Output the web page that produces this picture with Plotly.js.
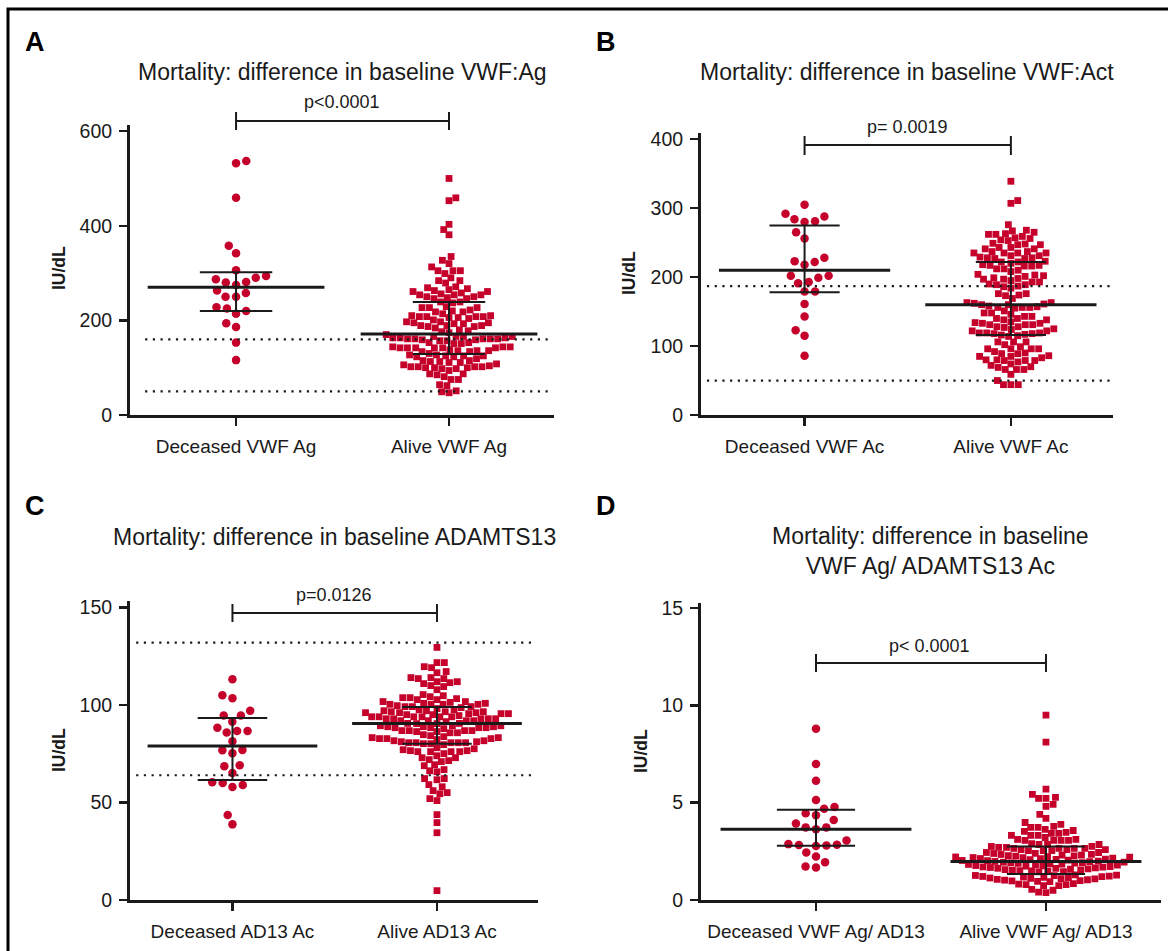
<!DOCTYPE html>
<html><head><meta charset="utf-8">
<script src="https://cdn.plot.ly/plotly-3.0.1.min.js"></script>
<style>html,body{margin:0;padding:0;background:#fff}#chart{width:1168px;height:951px}</style>
</head><body><div id="chart"></div>
<script>
// ---------------- DATA ----------------
const catsA = ["Deceased VWF Ag", "Alive VWF Ag"];
const catsB = ["Deceased VWF Ac", "Alive VWF Ac"];
const catsC = ["Deceased AD13 Ac", "Alive AD13 Ac"];
const catsD = ["Deceased VWF Ag/ AD13", "Alive VWF Ag/ AD13"];

const titleA = "Mortality: difference in baseline VWF:Ag";
const titleB = "Mortality: difference in baseline VWF:Act";
const titleC = "Mortality: difference in baseline ADAMTS13";
const titleD = "Mortality: difference in baseline<br>VWF Ag/ ADAMTS13 Ac";

const pA = "p<0.0001", pB = "p= 0.0019", pC = "p=0.0126", pD = "p< 0.0001";

const ticksA = [0, 200, 400, 600];
const ticksB = [0, 100, 200, 300, 400];
const ticksC = [0, 50, 100, 150];
const ticksD = [0, 5, 10, 15];

const refA = [160, 50];
const refB = [187, 50];
const refC = [132, 64];

// central line and error bar [centre, low, high] for [deceased, alive]
const statA = [[270, 220, 302], [171, 129, 239]];
const statB = [[210, 178, 275], [160, 116, 222]];
const statC = [[79.0, 61.6, 93.4], [90.5, 80.2, 99.0]];
const statD = [[3.64, 2.78, 4.64], [1.98, 1.34, 2.75]];

const deadA = [537,532,459,358,342,306,294,290,287,281,280,275,263,258,250,250,228,225,220,214,194,186,153,116];
const aliveA = [500,459,453,403,392,381,335,327,320,313,305,305,305,299,290,284,284,279,271,269,267,265,263,261,261,258,256,254,254,254,250,250,248,246,246,239,239,237,229,227,227,227,222,220,218,218,214,210,210,208,208,208,208,206,206,204,201,197,197,195,195,193,193,189,189,189,187,187,184,180,178,176,174,170,166,166,166,166,163,163,163,161,161,161,161,161,159,159,157,157,153,153,151,151,144,144,144,142,142,142,142,142,142,138,136,136,136,134,134,130,127,127,125,125,125,123,123,119,115,115,113,113,111,111,108,106,104,102,102,102,102,100,100,100,98,98,94,87,87,85,81,75,75,64,62,51,49,47];

const deadB = [305,292,288,284,281,280,265,256,228,223,222,218,202,199,202,193,191,179,179,161,143,123,115,86];
const aliveB = [339,311,307,276,268,267,265,263,262,262,259,257,256,254,253,249,248,247,247,243,243,241,241,237,237,235,235,235,235,231,231,229,228,227,227,228,222,222,223,220,218,217,216,216,217,212,212,210,208,203,202,204,201,199,198,197,197,195,193,193,190,189,189,187,186,184,176,176,174,173,169,163,163,162,161,160,160,158,156,155,156,156,157,151,148,148,146,143,143,140,140,138,138,135,134,133,133,131,131,131,128,128,127,125,124,122,122,119,119,119,118,118,117,116,115,114,106,106,106,102,99,96,96,96,96,92,90,89,89,86,85,85,83,80,79,79,79,80,77,74,72,70,69,66,66,66,59,50,44,44,44];

const deadC = [113.2,105,103.5,97.1,94.6,94.6,91.5,86.7,85.9,86.7,88.4,81.4,76.8,75.3,77,69.1,68.6,65.2,60.4,59,58,60,43.6,38.8];
const aliveC = [129.6,121.8,121.8,119.2,119.7,116.6,117.2,114.1,113.6,113.6,114.1,112,111.5,112,109.5,110,111,107.9,105.4,
 104.8,103.8,103.3,102.8,101.8,100.9,100.4,100.4,100.4,100.4,100.9,101.4,101.8,102.8,103.8,104.3,
 99.2,99.2,98.2,97.6,97.1,96.6,96.1,96.1,95.6,95.1,95.6,95.6,96.1,96.6,96.6,97.1,97.6,98.7,99.2,99.7,
 94.6,94.0,94.0,94.0,93.0,93.0,92.0,92.0,91.5,90.6,90.6,92.0,92.0,93.0,93.0,93.0,94.0,94.0,94.0,95.1,
 90.5,89.4,88.9,88.4,88.4,88.4,86.9,86.9,86.4,85.8,86.4,86.9,86.9,87.9,88.4,88.9,88.9,89.4,89.4,90.5,
 85.8,84.3,83.3,82.8,82.8,81.7,81.7,82.3,82.8,83.3,83.8,84.8,
 81.2,80.7,80.7,80.7,80.2,80.2,80.7,80.7,81.2,
 78.1,77.1,76.6,76.6,77.6,79.7,76.1,76.1,
 76.1,76.1,75.1,73.0,72.0,71.5,73.0,74.0,
 69.4,68.9,71.0,66.9,65.8,66.3,
 62.3,61.7,62.3,59.2,58.1,55.1,56.1,54.5,52.0,51.0,
 43.8,39.7,34.5,4.8];

const deadD = [8.80,6.99,6.13,5.14,4.78,4.69,4.45,4.35,4.11,3.93,3.73,3.63,3.73,2.87,2.82,2.77,2.80,2.84,3.06,2.44,2.23,1.94,1.67,1.72];
const aliveD = [9.50,8.11,5.69,5.43,5.22,5.22,5.27,4.91,4.81,4.40,4.19,3.88,3.78,3.98,3.73,3.63,3.52,3.73,3.57,3.47,3.42,3.42,3.32,3.32,3.32,3.21,3.11,3.06,3.06,3.11,3.06,3.06,
 2.90,2.85,2.85,2.85,2.75,2.70,2.65,2.65,2.59,2.54,2.54,2.44,2.39,2.34,2.34,2.39,2.44,2.54,2.59,2.59,2.65,2.65,2.70,2.75,
 2.31,2.30,2.28,2.27,2.25,2.23,2.21,2.20,2.18,2.17,2.15,2.13,2.12,2.10,2.08,2.07,2.05,2.03,2.02,2.00,1.98,1.97,1.95,1.94,1.92,1.91,1.89,1.88,
 1.86,1.84,1.83,1.81,1.79,1.77,1.76,1.74,1.72,1.70,1.69,1.67,1.65,1.63,1.62,1.60,1.58,1.56,1.55,1.53,1.51,1.49,1.48,1.46,1.44,
 1.29,1.28,1.26,1.25,1.23,1.21,1.20,1.18,1.16,1.15,1.13,1.11,1.10,1.08,1.06,1.04,1.02,1.00,0.98,0.96,0.94,
 0.84,0.82,0.79,0.79,0.74,0.74,0.55,0.50,0.40,0.38];

// ---------------- LAYOUT CONFIG ----------------
const W = 1168, H = 951;
const RED = "rgb(197,0,43)";
const FONT = "'Liberation Sans', Arial, Helvetica, sans-serif";
const INK = "#1a1a1a";

const panels = [
  {cats: catsA, dead: deadA, alive: aliveA, stat: statA, ref: refA, ticks: ticksA, title: titleA, p: pA, letter: "A",
   px: [130, 554], py: [125, 415], xr: [-0.498, 1.493], yr: [0, 613], refx: [-0.427, 1.479],
   titleXY: [342, 72], pXY: [342, 102], br: [121, 112, 130], letterXY: [35, 42], ytXY: [59, 268]},
  {cats: catsB, dead: deadB, alive: aliveB, stat: statB, ref: refB, ticks: ticksB, title: titleB, p: pB, letter: "B",
   px: [701, 1113], py: [133, 415], xr: [-0.502, 1.495], yr: [0, 409], refx: [-0.473, 1.487],
   titleXY: [907, 72], pXY: [907, 127], br: [145, 136, 155], letterXY: [606, 42], ytXY: [629, 273]},
  {cats: catsC, dead: deadC, alive: aliveC, stat: statC, ref: refC, ticks: ticksC, title: titleC, p: pC, letter: "C",
   px: [130, 538], py: [601, 900], xr: [-0.501, 1.494], yr: [0, 153.4], refx: [-0.471, 1.484],
   titleXY: [334, 537], pXY: [334, 595], br: [613, 604, 622], letterXY: [35, 506], ytXY: [59, 750]},
  {cats: catsD, dead: deadD, alive: aliveD, stat: statD, ref: [], ticks: ticksD, title: titleD, p: pD, letter: "D",
   px: [701, 1160.5], py: [602.7, 900], xr: [-0.5, 1.498], yr: [0, 15.27], refx: [0, 1],
   titleXY: [930, 551], pXY: [929, 646], br: [663, 654, 672], letterXY: [606, 506], ytXY: [641, 751]}
];

// beeswarm offsets computed in pixel space from the values
function swarm(vals, pxY, pxX, d) {
  const order = vals.map((v, i) => i).sort((a, b) => vals[a] - vals[b]);
  const placed = [], off = new Array(vals.length);
  let flip = 1;
  order.forEach(i => {
    const y = vals[i] * pxY, iv = [];
    placed.forEach(p => {
      const dy = Math.abs(p.y - y);
      if (dy < d) { const w = Math.sqrt(d * d - dy * dy); iv.push([p.x - w, p.x + w]); }
    });
    const c = [0];
    iv.forEach(q => c.push(q[0], q[1]));
    c.sort((a, b) => (Math.round(Math.abs(a) * 100) - Math.round(Math.abs(b) * 100)) || flip * (a - b));
    let x = 0;
    for (const v of c) { if (iv.every(q => v <= q[0] + 1e-6 || v >= q[1] - 1e-6)) { x = v; break; } }
    if (x !== 0) flip = -flip;
    placed.push({x, y});
    off[i] = x / pxX;
  });
  return off;
}

const px2x = v => v / W, py2y = v => 1 - v / H;
const traces = [], shapes = [], annotations = [];
const layout = {
  width: W, height: H, margin: {l: 0, r: 0, t: 0, b: 0}, showlegend: false,
  paper_bgcolor: "#fff", plot_bgcolor: "rgba(0,0,0,0)", font: {family: FONT, color: INK}
};

panels.forEach((P, k) => {
  const sfx = k === 0 ? "" : String(k + 1);
  const xa = "x" + sfx, ya = "y" + sfx;
  const pxPerX = (P.px[1] - P.px[0]) / (P.xr[1] - P.xr[0]);
  const pxPerY = (P.py[1] - P.py[0]) / (P.yr[1] - P.yr[0]);

  layout["xaxis" + sfx] = {
    domain: [px2x(P.px[0]), px2x(P.px[1])], range: P.xr, anchor: ya,
    tickmode: "array", tickvals: [0, 1], ticktext: P.cats, ticks: "outside", ticklen: 8, tickwidth: 2.5,
    tickcolor: INK, showline: true, linewidth: 3, linecolor: INK, showgrid: false, zeroline: false,
    tickfont: {size: 19, family: FONT, color: INK}, fixedrange: true, ticklabelstandoff: 4
  };
  layout["yaxis" + sfx] = {
    domain: [py2y(P.py[1]), py2y(P.py[0])], range: P.yr, anchor: xa,
    tickmode: "array", tickvals: P.ticks, ticks: "outside", ticklen: 8, tickwidth: 2.5,
    tickcolor: INK, showline: true, linewidth: 3, linecolor: INK, showgrid: false, zeroline: false,
    tickfont: {size: 19.5, family: FONT, color: INK}, fixedrange: true, ticklabelstandoff: 3
  };

  const offD = swarm(P.dead, pxPerY, pxPerX, 10.5);
  const offA = swarm(P.alive, pxPerY, pxPerX, 7.4);
  traces.push({type: "scatter", mode: "markers", xaxis: xa, yaxis: ya,
    x: offD.map(o => 0 + o), y: P.dead, marker: {symbol: "circle", size: 8.5, color: RED}, hoverinfo: "y"});
  traces.push({type: "scatter", mode: "markers", xaxis: xa, yaxis: ya,
    x: offA.map(o => 1 + o), y: P.alive, marker: {symbol: "square", size: 6.8, color: RED}, hoverinfo: "y"});

  // reference dotted lines
  P.ref.forEach(r => shapes.push({type: "line", xref: xa, yref: ya, x0: P.refx[0], x1: P.refx[1], y0: r, y1: r,
    line: {color: INK, width: 2.2, dash: "2.2px,5.5px"}}));

  // centre lines and error bars
  P.stat.forEach((s, c) => {
    shapes.push({type: "line", xref: xa, yref: ya, x0: c - 0.415, x1: c + 0.415, y0: s[0], y1: s[0], line: {color: INK, width: 3}});
    shapes.push({type: "line", xref: xa, yref: ya, x0: c, x1: c, y0: s[1], y1: s[2], line: {color: INK, width: 2}});
    shapes.push({type: "line", xref: xa, yref: ya, x0: c - 0.17, x1: c + 0.17, y0: s[1], y1: s[1], line: {color: INK, width: 2}});
    shapes.push({type: "line", xref: xa, yref: ya, x0: c - 0.17, x1: c + 0.17, y0: s[2], y1: s[2], line: {color: INK, width: 2}});
  });

  // significance bracket (above plot area, positioned via the axis mapping)
  const cx = c => px2x(P.px[0] + (c - P.xr[0]) * pxPerX);
  shapes.push({type: "line", xref: "paper", yref: "paper", x0: cx(0), x1: cx(1), y0: py2y(P.br[0]), y1: py2y(P.br[0]), line: {color: INK, width: 2}});
  [0, 1].forEach(c => shapes.push({type: "line", xref: "paper", yref: "paper", x0: cx(c), x1: cx(c),
    y0: py2y(P.br[1]), y1: py2y(P.br[2]), line: {color: INK, width: 2}}));

  annotations.push({xref: "paper", yref: "paper", x: px2x(P.pXY[0]), y: py2y(P.pXY[1]), text: P.p, showarrow: false,
    xanchor: "center", yanchor: "middle", font: {size: 18, family: FONT, color: INK}});
  annotations.push({xref: "paper", yref: "paper", x: px2x(P.titleXY[0]), y: py2y(P.titleXY[1]), text: P.title, showarrow: false,
    xanchor: "center", yanchor: "middle", font: {size: 23, family: FONT, color: INK}});
  annotations.push({xref: "paper", yref: "paper", x: px2x(P.letterXY[0]), y: py2y(P.letterXY[1]), text: "<b>" + P.letter + "</b>", showarrow: false,
    xanchor: "center", yanchor: "middle", font: {size: 27, family: FONT, color: "#000"}});
  annotations.push({xref: "paper", yref: "paper", x: px2x(P.ytXY[0]), y: py2y(P.ytXY[1]), text: "<b>IU/dL</b>", showarrow: false, textangle: -90,
    xanchor: "center", yanchor: "middle", font: {size: 17.5, family: FONT, color: INK}});
});

// outer frame
shapes.push({type: "rect", xref: "paper", yref: "paper", x0: px2x(8), x1: 1.05, y0: -0.05, y1: py2y(9),
  line: {color: "#000", width: 3}, fillcolor: "rgba(0,0,0,0)", layer: "below"});

layout.shapes = shapes;
layout.annotations = annotations;
Plotly.newPlot("chart", traces, layout, {displayModeBar: false, staticPlot: true});
</script></body></html>
